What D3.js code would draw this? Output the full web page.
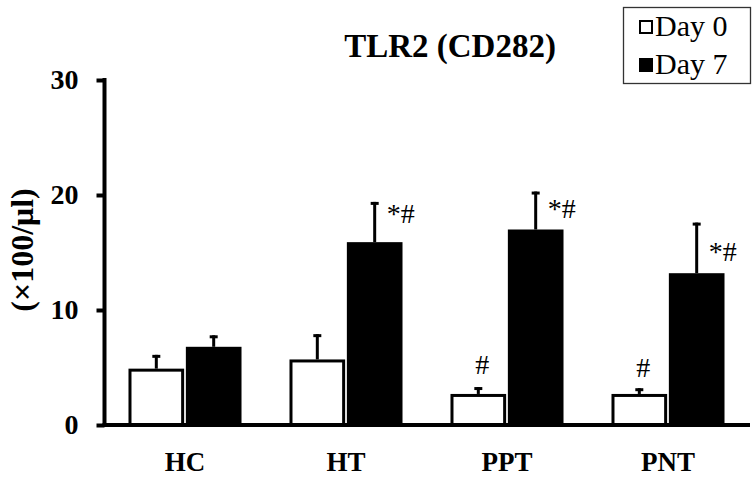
<!DOCTYPE html>
<html>
<head>
<meta charset="utf-8">
<script src="https://cdn.jsdelivr.net/npm/d3@7"></script>
<style>
  html, body { margin: 0; padding: 0; background: #fff; }
  svg { display: block; }
  text { font-family: "Liberation Serif", "Times New Roman", serif; fill: #000; }
</style>
</head>
<body>
<svg id="chart" width="756" height="477"></svg>
<script>
// ---- data ----
const categories = ["HC", "HT", "PPT", "PNT"];
const seriesNames = ["Day 0", "Day 7"];
const day0 = [4.9, 5.7, 2.7, 2.7];
const day0Err = [1.2, 2.2, 0.6, 0.5];
const day7 = [6.8, 15.9, 17.0, 13.2];
const day7Err = [1.0, 3.5, 3.3, 4.4];
const yTicks = [0, 10, 20, 30];
// annotations: category, series index, label, value at which the text baseline sits
const annotations = [
  { cat: "HT", s: 1, label: "*#", at: 17.6 },
  { cat: "PPT", s: 0, label: "#", at: 4.4 },
  { cat: "PPT", s: 1, label: "*#", at: 18.0 },
  { cat: "PNT", s: 0, label: "#", at: 4.2 },
  { cat: "PNT", s: 1, label: "*#", at: 14.3 }
];
const titleText = "TLR2 (CD282)";
const yLabel = "(×100/μl)";

// ---- layout ----
const svg = d3.select("#chart");
const mLeft = 104.5, mRight = 748.5, mTop = 80, mBottom = 425;

const x = d3.scaleBand().domain(categories).range([mLeft, mRight]).paddingInner(0.298).paddingOuter(0.149);
const xs = d3.scaleBand().domain([0, 1]).range([0, x.bandwidth()]).paddingInner(0.03);
const y = d3.scaleLinear().domain([0, 30]).range([mBottom, mTop]);

const rows = categories.map((c, i) => ({
  cat: c,
  vals: [
    { s: 0, v: day0[i], e: day0Err[i] },
    { s: 1, v: day7[i], e: day7Err[i] }
  ]
}));

const g = svg.selectAll("g.grp").data(rows).join("g")
  .attr("class", "grp")
  .attr("transform", d => `translate(${x(d.cat)},0)`);

// error bars (behind bars)
g.selectAll("g.err").data(d => d.vals).join("g").attr("class", "err").each(function(d) {
  const cx = xs(d.s) + xs.bandwidth() / 2;
  const sel = d3.select(this);
  sel.append("line").attr("x1", cx).attr("x2", cx)
    .attr("y1", y(d.v)).attr("y2", y(d.v + d.e))
    .attr("stroke", "#000").attr("stroke-width", 3);
  sel.append("line").attr("x1", cx - 4).attr("x2", cx + 4)
    .attr("y1", y(d.v + d.e) + 1.5).attr("y2", y(d.v + d.e) + 1.5)
    .attr("stroke", "#000").attr("stroke-width", 3);
});

// bars
g.selectAll("rect.bar").data(d => d.vals).join("rect")
  .attr("class", "bar")
  .attr("x", d => xs(d.s) + 1.5)
  .attr("width", xs.bandwidth() - 3)
  .attr("y", d => y(d.v) + 1.5)
  .attr("height", d => y(0) - y(d.v) - 1.5)
  .attr("fill", d => d.s === 0 ? "#fff" : "#000")
  .attr("stroke", "#000")
  .attr("stroke-width", 3);

// axes
const yAxis = d3.axisLeft(y).tickValues(yTicks).tickSize(8).tickPadding(18).tickFormat(d3.format("d"));
const ya = svg.append("g").attr("transform", `translate(${mLeft},0)`).call(yAxis);
ya.select(".domain").remove();
ya.selectAll(".tick line").attr("stroke", "#000").attr("stroke-width", 4);
ya.selectAll(".tick text").attr("font-size", 28).attr("font-weight", "bold")
  .attr("font-family", "Liberation Serif, Times New Roman, serif").attr("fill", "#000");
svg.append("line").attr("x1", mLeft).attr("x2", mLeft).attr("y1", y(30) - 2).attr("y2", y(0) + 2)
  .attr("stroke", "#000").attr("stroke-width", 4);

const xAxis = d3.axisBottom(x).tickSize(0).tickPadding(27);
const xa = svg.append("g").attr("transform", `translate(0,${mBottom})`).call(xAxis);
xa.select(".domain").remove();
xa.selectAll(".tick text").attr("font-size", 27).attr("font-weight", "bold")
  .attr("font-family", "Liberation Serif, Times New Roman, serif").attr("fill", "#000")
  .attr("dy", "0.71em");
svg.append("line").attr("x1", mLeft - 2).attr("x2", mRight + 1.5).attr("y1", mBottom).attr("y2", mBottom)
  .attr("stroke", "#000").attr("stroke-width", 4);

// annotations
svg.selectAll("text.ann").data(annotations).join("text")
  .attr("class", "ann")
  .attr("x", d => {
    const cx = x(d.cat) + xs(d.s) + xs.bandwidth() / 2;
    return d.label === "#" ? cx + 4 : cx + 12;
  })
  .attr("y", d => y(d.at))
  .attr("text-anchor", d => d.label === "#" ? "middle" : "start")
  .attr("font-size", 28)
  .text(d => d.label);

// title
svg.append("text").attr("x", 450).attr("y", 57).attr("text-anchor", "middle")
  .attr("font-size", 33).attr("font-weight", "bold").text(titleText);

// y label
svg.append("text").attr("transform", "translate(33,250) rotate(-90)")
  .attr("text-anchor", "middle").attr("font-size", 32).attr("font-weight", "bold").text(yLabel);

// legend
const lg = svg.append("g");
lg.append("rect").attr("x", 623.5).attr("y", 7.5).attr("width", 127).attr("height", 76)
  .attr("fill", "#fff").attr("stroke", "#333").attr("stroke-width", 1.3);
const li = lg.selectAll("g.li").data(seriesNames).join("g").attr("class", "li")
  .attr("transform", (d, i) => `translate(0,${i * 38})`);
li.append("rect").attr("x", 640).attr("y", 21).attr("width", 12).attr("height", 12)
  .attr("fill", (d, i) => i === 0 ? "#fff" : "#000").attr("stroke", "#000").attr("stroke-width", 2);
li.append("text").attr("x", 655).attr("y", 36).attr("font-size", 30).text(d => d);
</script>
</body>
</html>
